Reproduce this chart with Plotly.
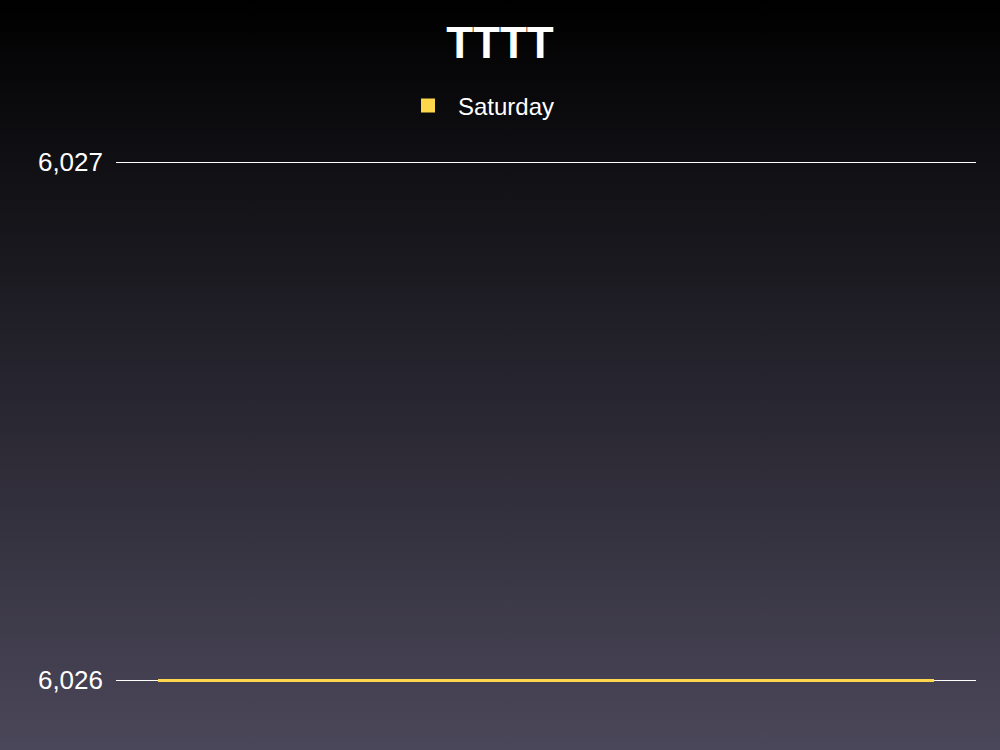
import base64
import plotly.graph_objects as go

# ---- data ----
title_text = "TTTT"
categories = ["Saturday"]
series_name = "Saturday"
values = [6026]
y_tick_values = [6026, 6027]
y_tick_labels = ["6,026", "6,027"]
axis_min = 6026

# ---- style ----
W, H = 1000, 750
ML, MR, MT, MB = 116, 24, 158, 68
plot_w = W - ML - MR
plot_h = H - MT - MB
px_per_unit = 518.0
yr_lo = axis_min - 2 / px_per_unit
yr_hi = yr_lo + plot_h / px_per_unit

yellow = "#FDD64B"
font_family = "Liberation Sans, Arial, Helvetica, sans-serif"

svg = (
    '<svg xmlns="http://www.w3.org/2000/svg" width="100" height="100" preserveAspectRatio="none">'
    '<defs><linearGradient id="g" x1="0" y1="0" x2="0" y2="1">'
    '<stop offset="0" stop-color="#000000"/>'
    '<stop offset="1" stop-color="#4b475a"/>'
    '</linearGradient></defs>'
    '<rect width="100" height="100" fill="url(#g)"/></svg>'
)
bg_src = "data:image/svg+xml;base64," + base64.b64encode(svg.encode()).decode()

fig = go.Figure()
fig.add_trace(go.Bar(
    x=categories,
    y=values,
    name=series_name,
    marker=dict(color=yellow, line=dict(color=yellow, width=2)),
    showlegend=True,
))

fig.update_layout(
    width=W, height=H,
    margin=dict(l=ML, r=MR, t=MT, b=MB, pad=0),
    paper_bgcolor="#000000",
    plot_bgcolor="rgba(0,0,0,0)",
    bargap=0.1,
    font=dict(family=font_family, color="#ffffff"),
    title=dict(text="<b>" + title_text + "</b>", x=0.5, xanchor="center",
               xref="container", y=1 - 43 / H, yanchor="middle",
               font=dict(size=44, color="#ffffff", family=font_family)),
    legend=dict(orientation="h", xref="container", yref="container",
                x=0.398, xanchor="left", y=1 - 106 / H, yanchor="middle",
                font=dict(size=24, color="#ffffff"), itemwidth=50,
                bgcolor="rgba(0,0,0,0)"),
    xaxis=dict(visible=False, showgrid=False, zeroline=False),
    yaxis=dict(range=[yr_lo, yr_hi], tickmode="array", tickvals=y_tick_values,
               ticktext=y_tick_labels, showgrid=True, gridcolor="#ffffff",
               gridwidth=1.3, zeroline=False, showline=False, ticks="",
               ticklabelstandoff=12,
               tickfont=dict(size=26, color="#ffffff", family=font_family)),
    images=[dict(source=bg_src, xref="paper", yref="paper",
                 x=-ML / plot_w, y=1 + MT / plot_h,
                 sizex=W / plot_w, sizey=H / plot_h,
                 xanchor="left", yanchor="top", sizing="stretch",
                 layer="below")],
)

fig.write_html("out.html")
